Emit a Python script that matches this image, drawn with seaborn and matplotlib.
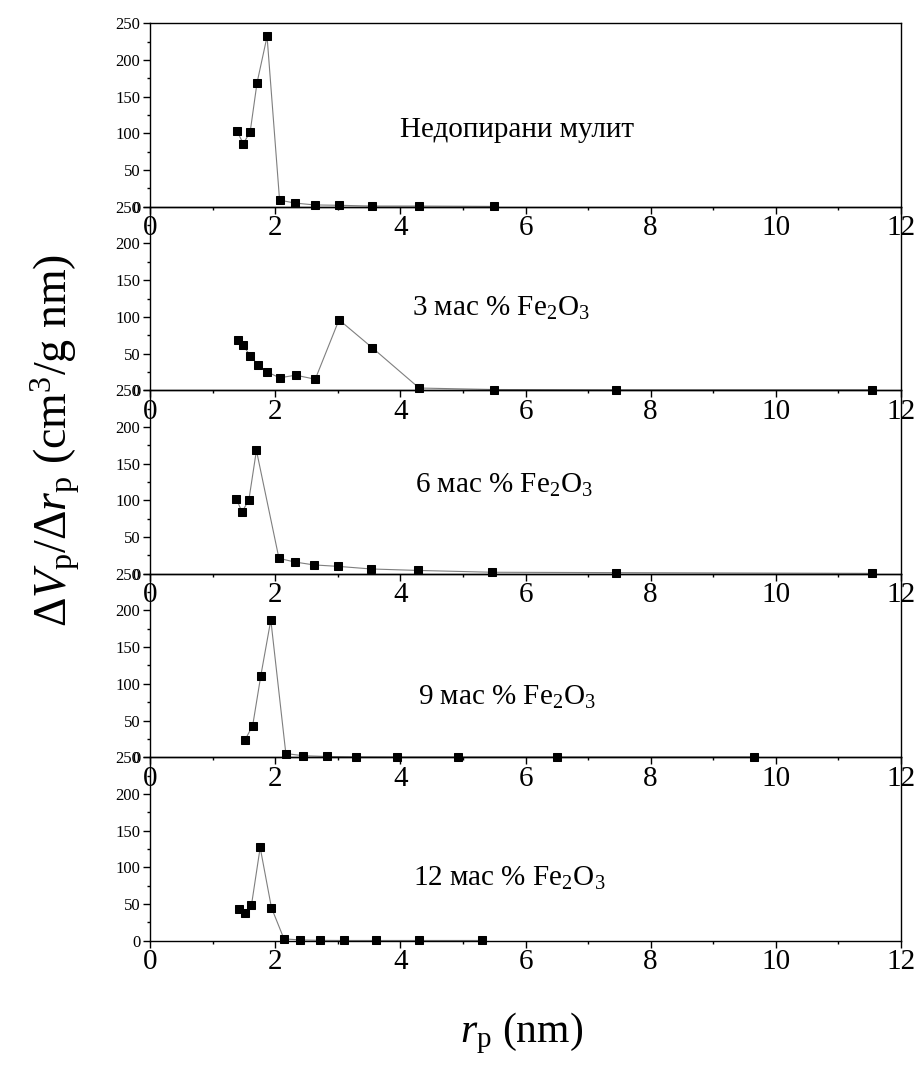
import matplotlib

matplotlib.use("Agg")
import matplotlib.pyplot as plt
import seaborn as sns
from matplotlib.ticker import MultipleLocator

# pore radius (nm) and dV/dr values
r_undoped = [1.39, 1.49, 1.60, 1.71, 1.87, 2.07, 2.32, 2.63, 3.02, 3.54, 4.30, 5.49]
v_undoped = [103, 86, 102, 169, 232, 9, 5, 2.5, 2, 1, 1, 0.5]

r_fe3 = [1.40, 1.49, 1.60, 1.72, 1.87, 2.07, 2.33, 2.64, 3.02, 3.55, 4.30, 5.49, 7.45, 11.53]
v_fe3 = [68, 61, 47, 35, 25, 17, 20.5, 15, 96, 58, 3, 1, 0.5, 0.5]

r_fe6 = [1.38, 1.47, 1.58, 1.70, 2.06, 2.31, 2.62, 3.01, 3.53, 4.28, 5.47, 7.45, 11.53]
v_fe6 = [102, 84, 101, 168, 21, 16, 12, 10, 6.5, 4.5, 2, 1.5, 0.5]

r_fe9 = [1.52, 1.64, 1.77, 1.93, 2.17, 2.45, 2.82, 3.29, 3.95, 4.92, 6.50, 9.65]
v_fe9 = [24, 43, 111, 187, 5, 2, 1, 0.5, 0.3, 0.3, 0.3, 0.3]

r_fe12 = [1.42, 1.51, 1.62, 1.76, 1.94, 2.14, 2.40, 2.71, 3.10, 3.61, 4.29, 5.31]
v_fe12 = [43, 38, 48, 127, 45, 2.5, 1, 0.5, 0.3, 0.3, 0.3, 0.3]

sample_names = [
    "Недопирани мулит",
    "3 мас % Fe$_2$O$_3$",
    "6 мас % Fe$_2$O$_3$",
    "9 мас % Fe$_2$O$_3$",
    "12 мас % Fe$_2$O$_3$",
]

series = [
    (r_undoped, v_undoped),
    (r_fe3, v_fe3),
    (r_fe6, v_fe6),
    (r_fe9, v_fe9),
    (r_fe12, v_fe12),
]
# where the sample name sits in each panel (data coords)
name_pos = [(5.87, 105), (5.6, 111), (5.65, 120), (5.7, 82), (5.74, 85)]

sns.set_style("ticks")
plt.rcParams["font.family"] = ["Liberation Serif", "DejaVu Serif"]
plt.rcParams["mathtext.fontset"] = "custom"
plt.rcParams["mathtext.rm"] = "Liberation Serif"
plt.rcParams["mathtext.it"] = "Liberation Serif:italic"
plt.rcParams["axes.linewidth"] = 1.0
plt.rcParams["text.color"] = "black"
plt.rcParams["xtick.color"] = "black"
plt.rcParams["ytick.color"] = "black"
plt.rcParams["axes.labelcolor"] = "black"

fig = plt.figure(figsize=(9.16, 10.68), dpi=100)
axes = fig.subplots(5, 1)
fig.subplots_adjust(left=0.1638, right=0.9836, top=0.9782, bottom=0.1192, hspace=0)

for ax, (r, v), name, (tx, ty) in zip(axes, series, sample_names, name_pos):
    # transparent so the tick labels of the panel above stay visible
    ax.set_facecolor("none")
    sns.lineplot(x=r, y=v, ax=ax, color="#7f7f7f", linewidth=0.8, marker="s",
                 markersize=6, markerfacecolor="black", markeredgecolor="black",
                 clip_on=False)
    ax.set_xlim(0, 12)
    ax.set_ylim(0, 250)
    ax.xaxis.set_major_locator(MultipleLocator(2))
    ax.xaxis.set_minor_locator(MultipleLocator(1))
    ax.yaxis.set_major_locator(MultipleLocator(50))
    ax.yaxis.set_minor_locator(MultipleLocator(25))
    ax.tick_params(axis="both", which="major", direction="out", length=5, width=1, color="black")
    ax.tick_params(axis="both", which="minor", direction="out", length=2.5, width=1, color="black")
    ax.tick_params(axis="x", labelsize=21, pad=1, labelcolor="black")
    ax.tick_params(axis="y", labelsize=12, pad=2, labelcolor="black")
    for side in ["top", "right", "left", "bottom"]:
        ax.spines[side].set_visible(True)
        ax.spines[side].set_color("black")
    ax.set_xlabel("")
    ax.set_ylabel("")
    ax.text(tx, ty, name, fontsize=21, ha="center", va="center", color="black")

fig.text(55 / 916, 1 - 440 / 1068,
         r"$\Delta V_{\mathrm{p}}/\Delta r_{\mathrm{p}}$ (cm$^{3}$/g nm)",
         rotation=90, fontsize=33, ha="center", va="center")
fig.text(522 / 916, 1 - 1033 / 1068, r"$r_{\mathrm{p}}$ (nm)",
         fontsize=30, ha="center", va="center")

fig.savefig("out.png", dpi=100, facecolor="white")
